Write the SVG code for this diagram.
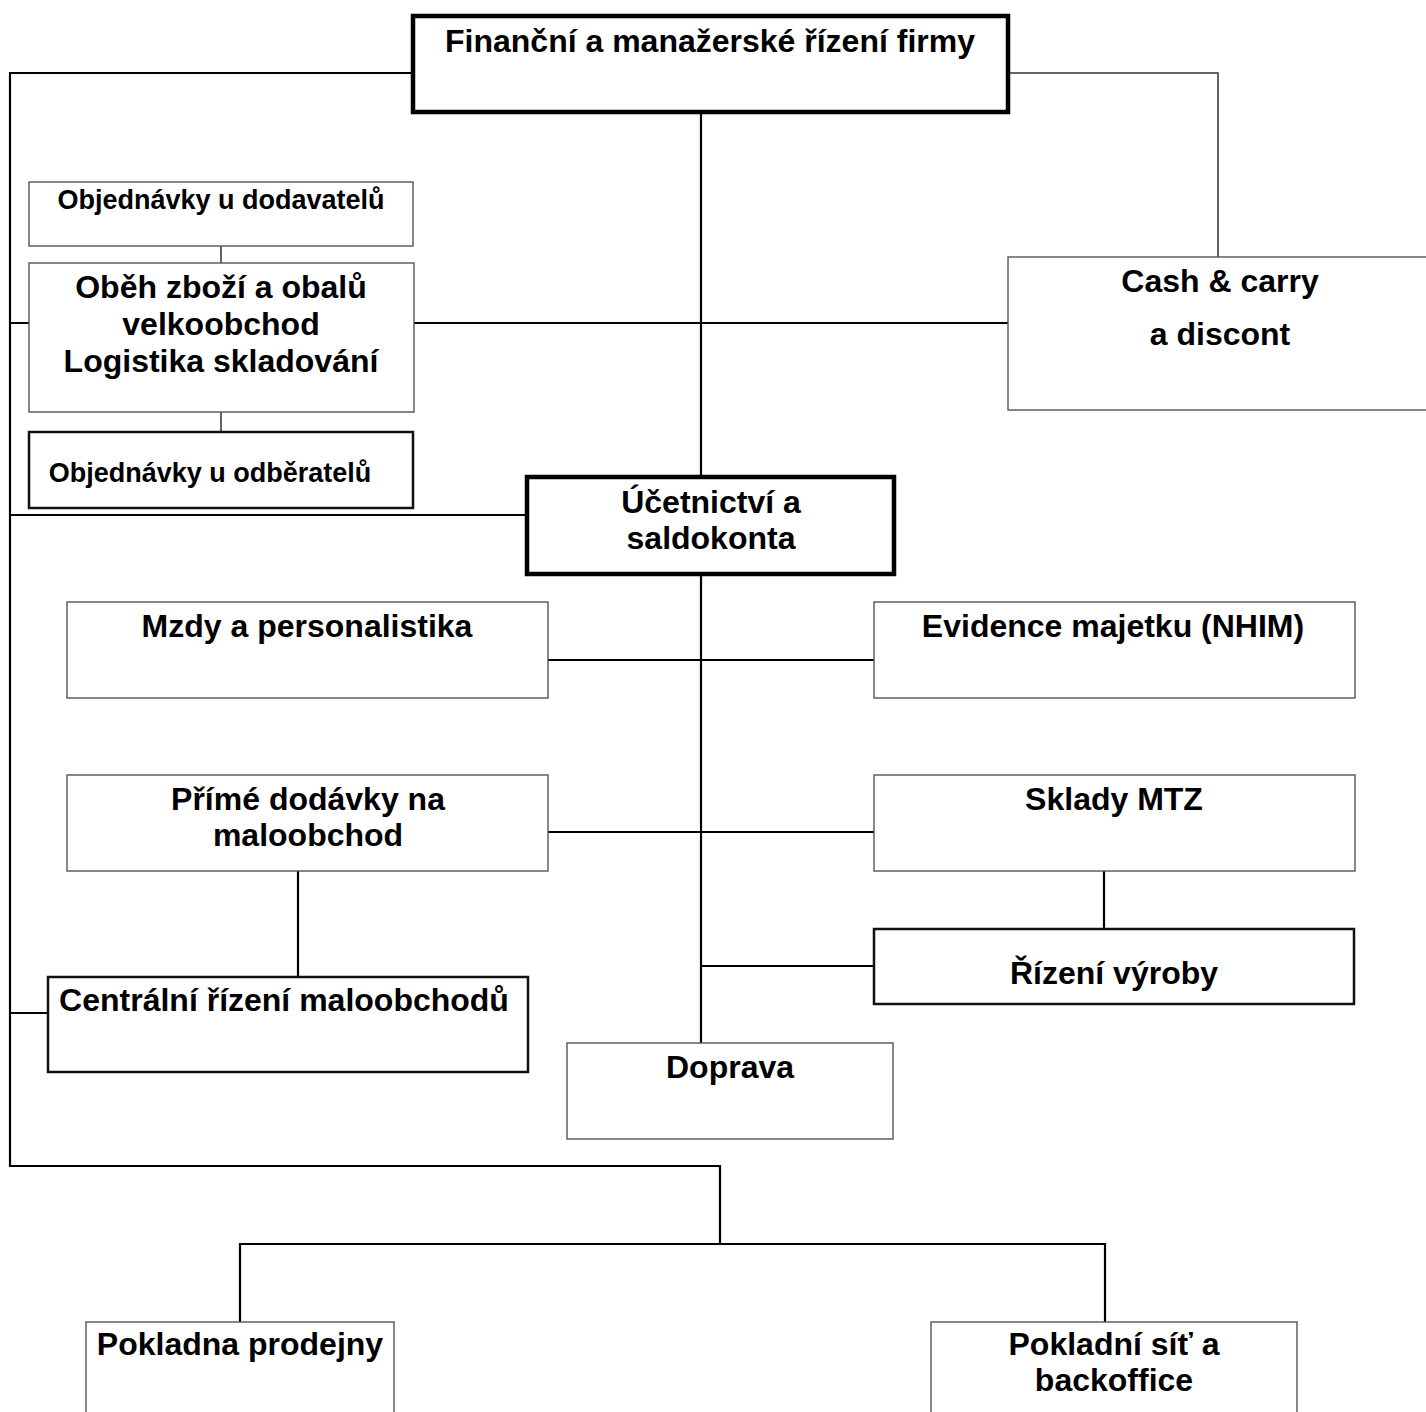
<svg xmlns="http://www.w3.org/2000/svg" width="1426" height="1412" viewBox="0 0 1426 1412">
<style>
rect{fill:#fff}
.thin{stroke:#555;stroke-width:1.4}
.med{stroke:#111;stroke-width:2.5}
.thick{stroke:#000;stroke-width:4.5}
.c{fill:none;stroke:#000;stroke-width:2.2}
.cl{fill:none;stroke:#333;stroke-width:1.5}
text{font-family:"Liberation Sans",Arial,sans-serif;font-weight:bold;fill:#000;text-anchor:middle;font-size:32px}
.s{font-size:27px}
</style>
<rect width="1426" height="1412" fill="#fff"/>
<g id="connectors">
<path class="c" d="M411 73H10V1166H720V1244"/>
<path class="c" d="M240 1322V1244H1105V1322"/>
<path class="cl" d="M1009 73H1218V257"/>
<path class="c" d="M701 112V476M701 574V1043"/>
<path class="c" d="M10 323H29M414 323H1008"/>
<path class="cl" d="M221 246V263M221 412V432"/>
<path class="c" d="M10 515H527"/>
<path class="c" d="M548 660H874M548 832H874M701 966H874"/>
<path class="c" d="M298 871V977M1104 871V929"/>
<path class="c" d="M10 1013H48"/>
</g>
<g id="n-financni"><rect class="thick" x="413" y="16" width="595" height="96"/><text x="710" y="52">Finanční a manažerské řízení firmy</text></g>
<g id="n-obj-dod"><rect class="thin" x="29" y="182" width="384" height="64"/><text class="s" x="221" y="209">Objednávky u dodavatelů</text></g>
<g id="n-obeh"><rect class="thin" x="29" y="263" width="385" height="149"/><text x="221" y="298">Oběh zboží a obalů</text><text x="221" y="335">velkoobchod</text><text x="221" y="372">Logistika skladování</text></g>
<g id="n-cash"><rect class="thin" x="1008" y="257" width="430" height="153"/><text x="1220" y="292">Cash &amp; carry</text><text x="1220" y="345">a discont</text></g>
<g id="n-obj-odb"><rect class="med" x="29" y="432" width="384" height="76"/><text class="s" x="210" y="482">Objednávky u odběratelů</text></g>
<g id="n-ucetnictvi"><rect class="thick" x="527" y="477" width="367" height="97"/><text x="711" y="513">Účetnictví a</text><text x="711" y="549">saldokonta</text></g>
<g id="n-mzdy"><rect class="thin" x="67" y="602" width="481" height="96"/><text x="307" y="637">Mzdy a personalistika</text></g>
<g id="n-evidence"><rect class="thin" x="874" y="602" width="481" height="96"/><text x="1113" y="637">Evidence majetku (NHIM)</text></g>
<g id="n-prime"><rect class="thin" x="67" y="775" width="481" height="96"/><text x="308" y="810">Přímé dodávky na</text><text x="308" y="846">maloobchod</text></g>
<g id="n-sklady"><rect class="thin" x="874" y="775" width="481" height="96"/><text x="1114" y="810">Sklady MTZ</text></g>
<g id="n-rizeni"><rect class="med" x="874" y="929" width="480" height="75"/><text x="1114" y="984">Řízení výroby</text></g>
<g id="n-centralni"><rect class="med" x="48" y="977" width="480" height="95"/><text x="284" y="1011">Centrální řízení maloobchodů</text></g>
<g id="n-doprava"><rect class="thin" x="567" y="1043" width="326" height="96"/><text x="730" y="1078">Doprava</text></g>
<g id="n-pokladna"><rect class="thin" x="86" y="1322" width="308" height="100"/><text x="240" y="1355">Pokladna prodejny</text></g>
<g id="n-pokladni-sit"><rect class="thin" x="931" y="1322" width="366" height="100"/><text x="1114" y="1355">Pokladní síť a</text><text x="1114" y="1391">backoffice</text></g>
</svg>
